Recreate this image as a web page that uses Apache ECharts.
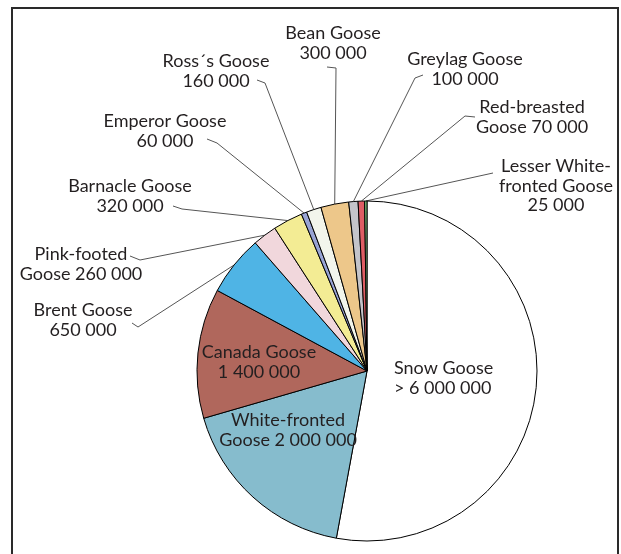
<!DOCTYPE html>
<html><head><meta charset="utf-8">
<script src="https://cdn.jsdelivr.net/npm/echarts@6/dist/echarts.min.js"></script>
<style>html,body{margin:0;padding:0;background:#fff}#c{width:621px;height:554px}</style>
</head><body><div id="c"></div>
<script>
// ---- data ----
const species = ['Snow Goose','White-fronted Goose','Canada Goose','Brent Goose','Pink-footed Goose','Barnacle Goose','Emperor Goose','Ross´s Goose','Bean Goose','Greylag Goose','Red-breasted Goose','Lesser White-fronted Goose'];
const populations = [6000000,2000000,1400000,650000,260000,320000,60000,160000,300000,100000,70000,25000];
const labelTexts = ['Snow Goose\n> 6 000 000','White-fronted\nGoose 2 000 000','Canada Goose\n1 400 000','Brent Goose\n650 000','Pink-footed\nGoose 260 000','Barnacle Goose\n320 000','Emperor Goose\n60 000','Ross´s Goose\n160 000','Bean Goose\n300 000','Greylag Goose\n100 000','Red-breasted\nGoose 70 000','Lesser White-\nfronted Goose\n25 000'];

// ---- styles / layout ----
const colors = ['#ffffff','#86bccd','#b0675c','#4fb4e5','#f1d7dc','#f3ec94','#98a4d4','#f2f5ec','#edc78a','#c4c4ca','#de5d64','#82c47c'];
const labelPlacement = [
  {x:394,y:378,align:'left',inside:true},
  {x:288,y:430,inside:true},
  {x:259,y:362,inside:true},
  {x:83,y:320,line:[[138,327],[132,323]]},
  {x:81,y:264,line:[[140,260],[130,256]]},
  {x:130,y:196,line:[[182,209],[173,206]]},
  {x:165,y:131,line:[[217,143],[207,139]]},
  {x:216,y:71,line:[[265,83],[257,80]]},
  {x:333,y:43,line:[[336,68],[327,67]]},
  {x:465,y:69,line:[[415,78],[423,75]]},
  {x:532,y:117,line:[[465,116],[475,117]]},
  {x:556,y:186,line:[[493,173]]}
];

const chart = echarts.init(document.getElementById('c'), null, {renderer:'canvas'});
const data = species.map((n,i)=>({
  name:n, value:populations[i],
  itemStyle:{color:colors[i]},
  label: labelPlacement[i].inside ? {position:'inside'} : {position:'outside'},
  labelLine: {show: !labelPlacement[i].inside}
}));

chart.setOption({
  animation:false,
  graphic:[{type:'rect',shape:{x:12,y:8,width:606,height:560},style:{fill:'none',stroke:'#2a2a2a',lineWidth:2},silent:true}],
  series:[{
    type:'pie',
    center:[367,371],
    radius:170,
    startAngle:90,
    clockwise:true,
    avoidLabelOverlap:false,
    silent:true,
    itemStyle:{borderColor:'#000',borderWidth:1},
    label:{
      show:true,
      formatter:(p)=>labelTexts[p.dataIndex],
      fontFamily:'Lato',
      fontSize:18,
      lineHeight:19.5,
      color:'#231f20',
      align:'center'
    },
    labelLine:{show:true,lineStyle:{color:'#555',width:1},length:10,length2:10},
    labelLayout:function(params){
      const lp = labelPlacement[params.dataIndex];
      const out = {x:lp.x,y:lp.y,align:lp.align||'center',verticalAlign:'middle'};
      if(!lp.inside && params.labelLinePoints){
        const edge = params.labelLinePoints[0];
        out.labelLinePoints = [edge].concat(lp.line);
      }
      return out;
    },
    data:data
  }]
});
</script>
</body></html>
